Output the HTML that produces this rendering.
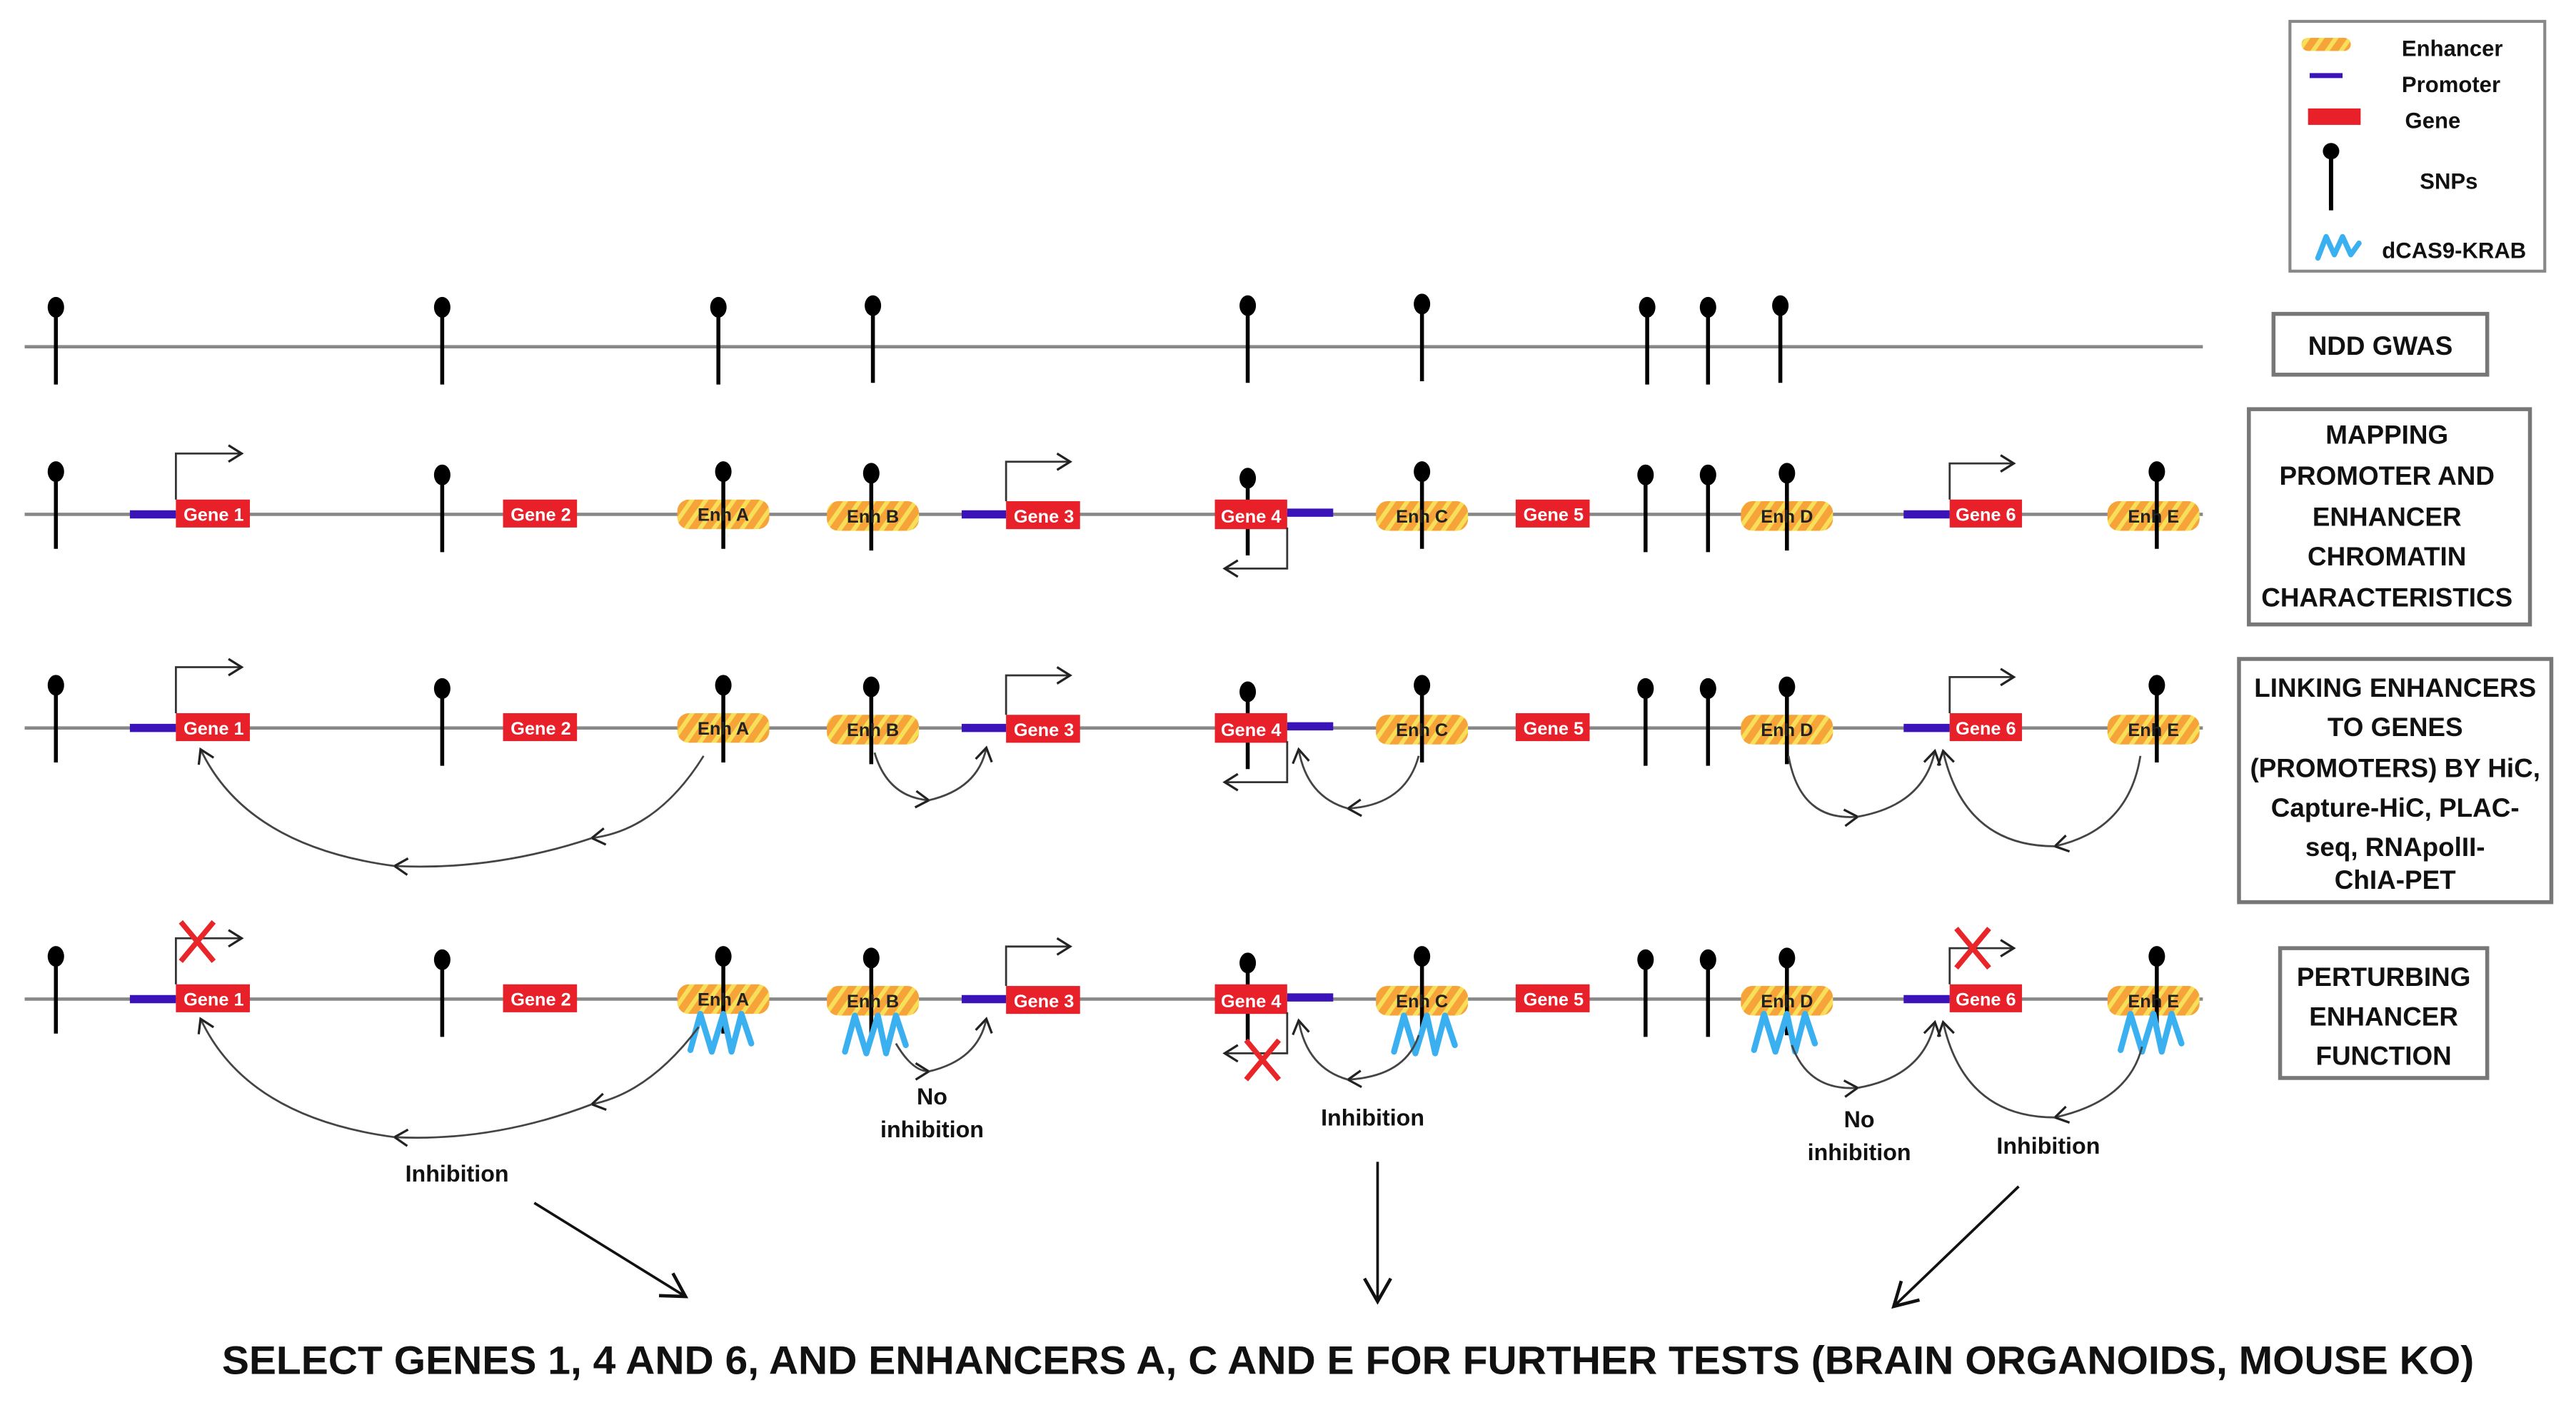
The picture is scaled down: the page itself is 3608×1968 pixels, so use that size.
<!DOCTYPE html>
<html><head><meta charset="utf-8">
<style>
html,body{margin:0;padding:0;background:#fff;}
svg{display:block;}
text{font-family:"Liberation Sans",sans-serif;}
</style></head>
<body>
<svg width="3608" height="1968" viewBox="0 0 1567 855" preserveAspectRatio="none" xmlns="http://www.w3.org/2000/svg">
<defs>
<pattern id="st" patternUnits="userSpaceOnUse" width="7" height="7" patternTransform="rotate(35)">
<rect width="7" height="7" fill="#f6a33a"/><rect width="2.6" height="7" fill="#f7df5a"/>
</pattern>
<marker id="ah" markerUnits="userSpaceOnUse" markerWidth="14" markerHeight="14" refX="10" refY="6" orient="auto">
<path d="M2,1 L10,6 L2,11" fill="none" stroke="#222" stroke-width="1.4"/>
</marker>
<marker id="ahb" markerUnits="userSpaceOnUse" markerWidth="24" markerHeight="24" refX="18" refY="10" orient="auto">
<path d="M4,2 L18,10 L4,18" fill="none" stroke="#111" stroke-width="2"/>
</marker>
<g id="pin"><line x1="0" y1="0" x2="0" y2="47" stroke="#000" stroke-width="2.4"/><ellipse cx="0" cy="0" rx="5" ry="6.3" fill="#000"/></g>
<path id="sq" d="M-17,31 L-11,9 L-4,32 L3,9 L8,32 L14,9 L20,27" fill="none" stroke="#3ab0f0" stroke-width="3.6" stroke-linejoin="round" stroke-linecap="round"/>
<path id="xx" d="M-10,-12 L10,12 M10,-12 L-10,12" stroke="#e8262a" stroke-width="3.2"/>
</defs>

<!-- Legend -->
<rect x="1393" y="13" width="155" height="152" fill="#fff" stroke="#888" stroke-width="1.8"/>
<rect x="1400" y="23" width="30" height="8" rx="4" fill="url(#st)"/>
<line x1="1405" y1="46" x2="1425" y2="46" stroke="#3a14b8" stroke-width="3"/>
<rect x="1404" y="66" width="32" height="10" fill="#e8202a"/>
<line x1="1418" y1="92" x2="1418" y2="128" stroke="#000" stroke-width="2.6"/><ellipse cx="1418" cy="92" rx="5" ry="5" fill="#000"/>
<path d="M1410,157 L1415,144 L1420,155 L1425,144 L1430,155 L1435,148" fill="none" stroke="#3ab0f0" stroke-width="3.2" stroke-linejoin="round" stroke-linecap="round"/>
<g font-weight="bold" font-size="13.5" fill="#111">
<text x="1461" y="34">Enhancer</text>
<text x="1461" y="56">Promoter</text>
<text x="1463" y="78">Gene</text>
<text x="1472" y="115">SNPs</text>
<text x="1449" y="157">dCAS9-KRAB</text>
</g>

<!-- Stage boxes -->
<g fill="#fff" stroke="#777" stroke-width="2.4">
<rect x="1383" y="191" width="130" height="37"/>
<rect x="1368" y="249" width="171" height="131"/>
<rect x="1362" y="401" width="190" height="148"/>
<rect x="1387" y="577" width="126" height="79"/>
</g>
<g font-weight="bold" font-size="16" fill="#111" text-anchor="middle">
<text x="1448" y="216">NDD GWAS</text>
<text x="1452" y="270">MAPPING</text>
<text x="1452" y="295">PROMOTER AND</text>
<text x="1452" y="320">ENHANCER</text>
<text x="1452" y="344">CHROMATIN</text>
<text x="1452" y="369">CHARACTERISTICS</text>
<text x="1457" y="424">LINKING ENHANCERS</text>
<text x="1457" y="448">TO GENES</text>
<text x="1457" y="473">(PROMOTERS) BY HiC,</text>
<text x="1457" y="497">Capture-HiC, PLAC-</text>
<text x="1457" y="521">seq, RNApolII-</text>
<text x="1457" y="541">ChIA-PET</text>
<text x="1450" y="600">PERTURBING</text>
<text x="1450" y="624">ENHANCER</text>
<text x="1450" y="648">FUNCTION</text>
</g>

<!-- Row 1 -->
<line x1="15" y1="211" x2="1340" y2="211" stroke="#888" stroke-width="2"/>
<use href="#pin" x="34" y="187"/><use href="#pin" x="269" y="187"/><use href="#pin" x="437" y="187"/>
<use href="#pin" x="531" y="186"/><use href="#pin" x="759" y="186"/><use href="#pin" x="865" y="185"/>
<use href="#pin" x="1002" y="187"/><use href="#pin" x="1039" y="187"/><use href="#pin" x="1083" y="186"/>

<!-- Base row template, y=313 -->
<g id="row">
<line x1="15" y1="313" x2="1340" y2="313" stroke="#888" stroke-width="2"/>
<use href="#pin" x="34" y="287"/><use href="#pin" x="269" y="289"/>
<use href="#pin" x="1001" y="289"/><use href="#pin" x="1039" y="289"/>
<use href="#pin" x="759" y="291"/>
<g stroke="#3a14b8" stroke-width="5">
<line x1="79" y1="313" x2="107" y2="313"/><line x1="585" y1="313" x2="612" y2="313"/>
<line x1="783" y1="312" x2="811" y2="312"/><line x1="1158" y1="313" x2="1186" y2="313"/>
</g>
<g fill="#e8202a">
<rect x="107" y="304" width="45" height="17"/><rect x="306" y="304" width="45" height="17"/>
<rect x="612" y="305" width="45" height="17"/><rect x="739" y="304" width="44" height="18"/>
<rect x="922" y="304" width="45" height="17"/><rect x="1186" y="304" width="44" height="17"/>
</g>
<g fill="url(#st)">
<rect x="412" y="304" width="56" height="18" rx="7"/><rect x="503" y="305" width="56" height="18" rx="7"/>
<rect x="837" y="305" width="56" height="18" rx="7"/><rect x="1059" y="305" width="56" height="18" rx="7"/>
<rect x="1282" y="305" width="56" height="18" rx="7"/>
</g>
<use href="#pin" x="440" y="287"/><use href="#pin" x="530" y="288"/><use href="#pin" x="865" y="287"/>
<use href="#pin" x="1087" y="288"/><use href="#pin" x="1312" y="287"/>
<g font-weight="bold" font-size="11" text-anchor="middle">
<g fill="#fff">
<text x="130" y="317">Gene 1</text><text x="329" y="317">Gene 2</text><text x="635" y="318">Gene 3</text>
<text x="761" y="318">Gene 4</text><text x="945" y="317">Gene 5</text><text x="1208" y="317">Gene 6</text>
</g>
<g fill="#222">
<text x="440" y="317">Enh A</text><text x="531" y="318">Enh B</text><text x="865" y="318">Enh C</text>
<text x="1087" y="318">Enh D</text><text x="1310" y="318">Enh E</text>
</g>
</g>
<g fill="none" stroke="#333" stroke-width="1.2" marker-end="url(#ah)">
<path d="M107,304 V276 H147"/><path d="M612,305 V281 H651"/>
<path d="M1186,304 V282 H1225"/><path d="M783,321 V346 H745"/>
</g>
</g>

<use href="#row" y="130"/>
<use href="#row" y="295"/>

<!-- Row 3 arcs -->
<g fill="none" stroke="#444" stroke-width="1.2" marker-end="url(#ah)">
<path d="M428,460 Q400,505 360,510"/>
<path d="M360,510 Q300,530 240,527"/>
<path d="M240,527 Q150,515 122,456"/>
<path d="M532,458 Q540,485 565,487"/>
<path d="M565,487 Q595,480 600,455"/>
<path d="M863,460 Q855,490 820,492"/>
<path d="M820,492 Q795,485 790,456"/>
<path d="M1088,460 Q1095,500 1130,497"/>
<path d="M1130,497 Q1170,490 1177,457"/>
<path d="M1302,460 Q1295,505 1250,515"/>
<path d="M1250,515 Q1195,515 1182,457"/>
</g>

<!-- Row 4 dCas9 -->
<use href="#sq" x="437" y="608"/><use href="#sq" x="531" y="609"/><use href="#sq" x="865" y="609"/>
<use href="#sq" x="1084" y="608"/><use href="#sq" x="1307" y="608"/>

<!-- Row 4 arcs -->
<g fill="none" stroke="#444" stroke-width="1.2" marker-end="url(#ah)">
<path d="M425,625 Q395,665 360,672"/>
<path d="M360,672 Q300,695 240,692"/>
<path d="M240,692 Q150,680 122,620"/>
<path d="M545,635 Q555,652 565,652"/>
<path d="M565,652 Q595,645 600,620"/>
<path d="M863,630 Q855,655 820,657"/>
<path d="M820,657 Q795,650 790,621"/>
<path d="M1090,636 Q1100,664 1130,662"/>
<path d="M1130,662 Q1170,655 1177,622"/>
<path d="M1303,637 Q1295,670 1250,680"/>
<path d="M1250,680 Q1195,680 1182,622"/>
</g>

<!-- X marks -->
<use href="#xx" x="120" y="573"/><use href="#xx" x="768" y="645"/><use href="#xx" x="1200" y="577"/>

<!-- Labels -->
<g font-weight="bold" font-size="14" fill="#111" text-anchor="middle">
<text x="278" y="719">Inhibition</text>
<text x="567" y="672">No</text><text x="567" y="692">inhibition</text>
<text x="835" y="685">Inhibition</text>
<text x="1131" y="686">No</text><text x="1131" y="706">inhibition</text>
<text x="1246" y="702">Inhibition</text>
</g>

<!-- Big arrows -->
<g fill="none" stroke="#111" stroke-width="1.6" marker-end="url(#ahb)">
<path d="M325,732 L417,789"/>
<path d="M838,707 L838,792"/>
<path d="M1228,722 L1152,795"/>
</g>

<text x="820" y="836" text-anchor="middle" font-weight="bold" font-size="24" fill="#111" textLength="1370" lengthAdjust="spacingAndGlyphs">SELECT GENES 1, 4 AND 6, AND ENHANCERS A, C AND E FOR FURTHER TESTS (BRAIN ORGANOIDS, MOUSE KO)</text>
</svg>
</body></html>
